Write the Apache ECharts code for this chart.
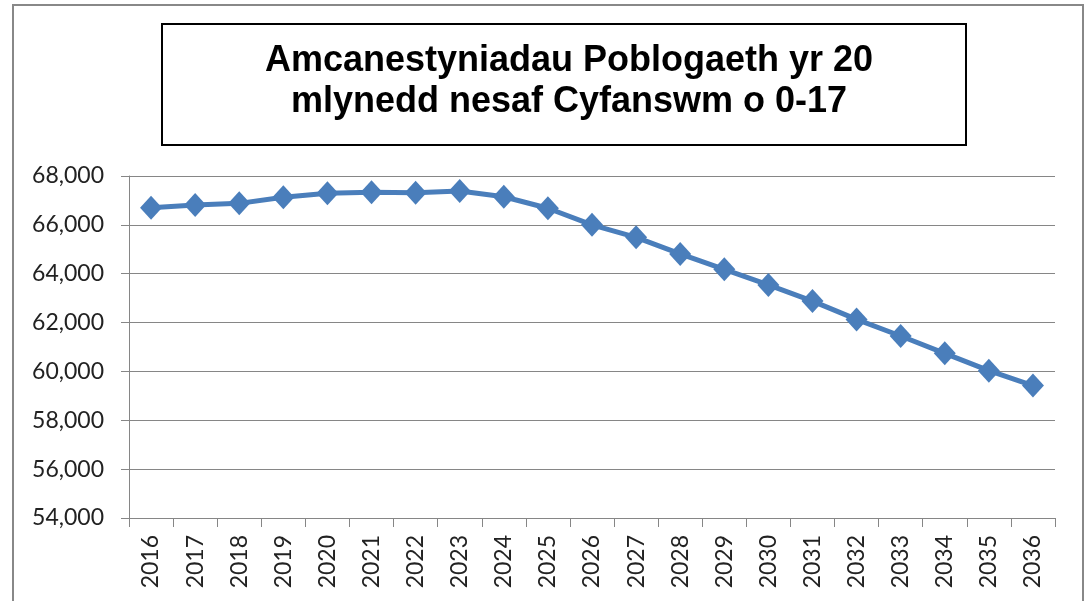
<!DOCTYPE html>
<html>
<head>
<meta charset="utf-8">
<script src="https://cdn.jsdelivr.net/npm/echarts@6/dist/echarts.min.js"></script>
<style>
  html, body { margin: 0; padding: 0; background: #fff; }
  #chart { width: 1089px; height: 601px; }
</style>
</head>
<body>
<div id="chart"></div>
<script>
  // blynyddoedd (categories)
  const years = ['2016', '2017', '2018', '2019', '2020', '2021', '2022', '2023', '2024', '2025', '2026',
    '2027', '2028', '2029', '2030', '2031', '2032', '2033', '2034', '2035', '2036']
  // cyfanswm 0-17
  const totals = [66700, 66810, 66880, 67130, 67290, 67330, 67310, 67390, 67150, 66680, 66000,
    65490, 64810, 64180, 63540, 62880, 62130, 61450, 60740, 60030, 59420]
  const titleLines = ['Amcanestyniadau Poblogaeth yr 20', 'mlynedd nesaf Cyfanswm o 0-17']

  const mChart = echarts.init(document.getElementById('chart'))
  const options = {
    animation: false,
    // ffin y siart a blwch y teitl
    graphic: [
      {
        type: 'rect',
        shape: { x: 13, y: 5, width: 1070, height: 620 },
        style: { fill: 'none', stroke: '#888', lineWidth: 2 },
        silent: true,
      },
      {
        type: 'rect',
        shape: { x: 162, y: 24, width: 804, height: 121 },
        style: { fill: '#fff', stroke: '#000', lineWidth: 2 },
        silent: true,
      },
    ],
    title: {
      text: titleLines.join('\n'),
      left: 564,
      textAlign: 'center',
      top: 36,
      z: 10,
      textStyle: {
        fontFamily: 'Liberation Sans, Arial, sans-serif',
        fontWeight: 'bold',
        fontSize: 36,
        lineHeight: 41,
        color: '#000',
      },
    },
    grid: {
      top: 176,
      right: 34,
      bottom: 83,
      left: 129,
    },
    xAxis: {
      type: 'category',
      data: years,
      boundaryGap: true,
      axisLine: { lineStyle: { color: '#868686', width: 1 } },
      axisTick: { show: true, length: 9, inside: false, lineStyle: { color: '#868686' } },
      axisLabel: {
        rotate: 90,
        margin: 17,
        fontFamily: 'Lato, sans-serif',
        fontSize: 23,
        color: '#222',
        interval: 0,
      },
    },
    yAxis: {
      type: 'value',
      min: 54000,
      max: 68000,
      interval: 2000,
      axisLine: { show: true, lineStyle: { color: '#868686', width: 1 } },
      axisTick: { show: true, length: 8, lineStyle: { color: '#868686' } },
      splitLine: { lineStyle: { color: '#868686', width: 1 } },
      axisLabel: {
        margin: 25,
        fontFamily: 'Lato, sans-serif',
        fontSize: 23,
        color: '#222',
        formatter: (v) => v.toLocaleString('en-US'),
      },
    },
    series: [
      {
        type: 'line',
        data: totals,
        color: '#4A7EBB',
        symbol: 'diamond',
        symbolSize: [22, 24],
        lineStyle: { width: 5, color: '#4A7EBB' },
        itemStyle: { color: '#4A7EBB' },
      },
    ],
  }

  mChart.setOption(options)
</script>
</body>
</html>
